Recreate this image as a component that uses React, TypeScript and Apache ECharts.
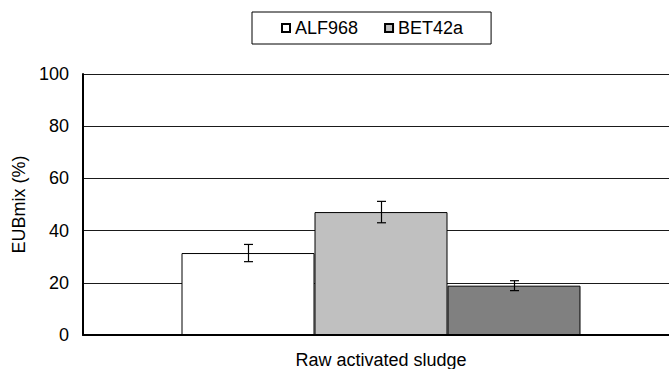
import React, { useEffect, useRef } from "react";
import * as echarts from "echarts";

const categories = ["Raw activated sludge"];
const seriesNames = ["ALF968", "BET42a", "GAM42a"];
const legendNames = ["ALF968", "BET42a"];
const seriesValues = [[31.4], [47.1], [18.9]];
const seriesErrors = [[3.3], [4.1], [1.9]];
const seriesColors = ["#ffffff", "#c0c0c0", "#808080"];
const yTicks = [0, 20, 40, 60, 80, 100];

const FONT = "'Liberation Sans', Arial, sans-serif";
const BAR_W = 133;

export default function App() {
  const ref = useRef<HTMLDivElement>(null);
  useEffect(() => {
    if (!ref.current) return;
    document.body.style.margin = "0";
    const chart = echarts.init(ref.current, undefined, { renderer: "svg" });
    const bars = seriesNames.map((name, i) => ({
      name,
      type: "bar",
      data: seriesValues[i],
      barWidth: BAR_W,
      barGap: "0%",
      itemStyle: { color: seriesColors[i], borderColor: "#000", borderWidth: 1 },
      z: 2,
    }));
    const errData: any[] = [];
    seriesNames.forEach((_, i) => {
      categories.forEach((_c, ci) => {
        const v = seriesValues[i][ci];
        const e = seriesErrors[i][ci];
        errData.push({ value: [ci, v - e, v + e, i] });
      });
    });
    const n = seriesNames.length;
    const errSeries = {
      type: "custom",
      name: "err",
      data: errData,
      encode: { x: 0, y: [1, 2] },
      z: 5,
      silent: true,
      renderItem: (params: any, api: any) => {
        const ci = api.value(0);
        const lo = api.coord([ci, api.value(1)]);
        const hi = api.coord([ci, api.value(2)]);
        const idx = api.value(3);
        const x = Math.round(lo[0] + (idx - (n - 1) / 2) * BAR_W) + 0.5;
        const cap = 4.5;
        const st = { stroke: "#000", lineWidth: 1.2 };
        return {
          type: "group",
          children: [
            { type: "line", shape: { x1: x, y1: lo[1], x2: x, y2: hi[1] }, style: st },
            { type: "line", shape: { x1: x - cap, y1: lo[1], x2: x + cap, y2: lo[1] }, style: st },
            { type: "line", shape: { x1: x - cap, y1: hi[1], x2: x + cap, y2: hi[1] }, style: st },
          ],
        };
      },
    };
    chart.setOption({
      animation: false,
      backgroundColor: "#fff",
      textStyle: { fontFamily: FONT },
      legend: {
        data: legendNames,
        left: 252,
        top: 12,
        padding: [7, 28, 7, 29],
        itemGap: 26,
        itemWidth: 8,
        itemHeight: 8,
        icon: "rect",
        borderColor: "#000",
        borderWidth: 1,
        textStyle: { fontSize: 18, color: "#000", fontFamily: FONT },
      },
      grid: { left: 83, top: 74, width: 596, height: 262, containLabel: false },
      xAxis: {
        type: "category",
        data: categories,
        axisLine: { lineStyle: { color: "#000", width: 2 } },
        axisTick: { show: false },
        axisLabel: { fontSize: 18, color: "#000", margin: 16, fontFamily: FONT },
      },
      yAxis: {
        type: "value",
        min: yTicks[0],
        max: yTicks[yTicks.length - 1],
        interval: 20,
        name: "EUBmix (%)",
        nameLocation: "middle",
        nameGap: 52,
        nameTextStyle: { fontSize: 18, color: "#000", fontFamily: FONT },
        axisLine: { show: true, lineStyle: { color: "#000", width: 2 } },
        axisTick: { show: false },
        axisLabel: { fontSize: 18, color: "#000", margin: 14, fontFamily: FONT },
        splitLine: { show: true, lineStyle: { color: "#1a1a1a", width: 1.2 } },
      },
      series: [...bars, errSeries],
    });
    return () => chart.dispose();
  }, []);
  return (
    <div
      style={{
        position: "absolute",
        left: 0,
        top: 0,
        width: 669,
        height: 369,
        overflow: "hidden",
        background: "#fff",
      }}
    >
      <div ref={ref} style={{ width: 700, height: 369 }} />
    </div>
  );
}
